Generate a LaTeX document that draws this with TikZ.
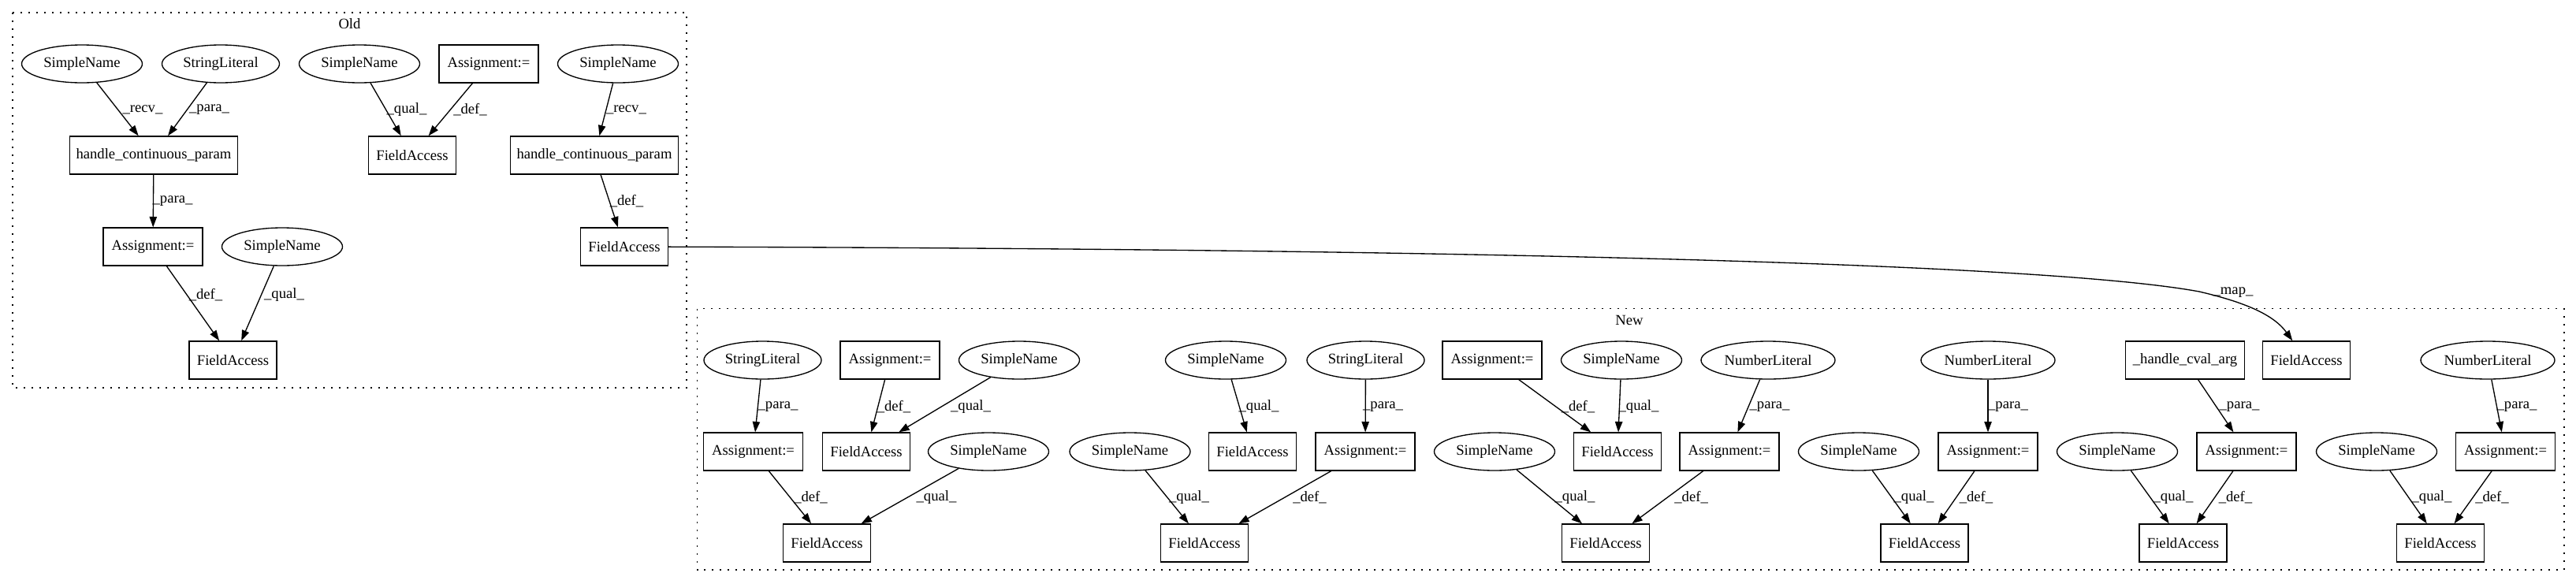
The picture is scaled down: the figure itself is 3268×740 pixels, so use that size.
\documentclass[tikz,border=0pt]{standalone}
\usepackage{fontspec}
\setmainfont{Liberation Serif}
\usetikzlibrary{shapes.geometric,arrows.meta}
\tikzset{
  ell/.style={draw, ellipse, line width=1pt, inner sep=0pt, minimum height=36pt, minimum width=#1},
  box/.style={draw, rectangle, line width=1pt, inner sep=0pt, minimum height=36pt, minimum width=#1},
  edge/.style={draw, line width=1pt, -{Triangle[length=10pt,width=7pt]}},
  lab/.style={inner sep=0pt},
  cluster/.style={line width=1pt, dash pattern=on 1.5pt off 6pt},
}
\begin{document}
\begin{tikzpicture}[x=0.75pt,y=-0.75pt,font=\fontsize{14pt}{16pt}\selectfont]
\useasboundingbox (0,0) rectangle (3268,740);
% clusters
\draw[cluster] (16,16) rectangle (871,492);
\node[lab] (oldlab) at (443.5,30.5) {Old};
\draw[cluster] (884.5,391.7) rectangle (3253,723);
\node[lab] (newlab) at (2067,406) {New};

% Old nodes
\node[ell=114.75pt] (o1) at (104,81) {SimpleName};
\node[ell=111.75pt] (o2) at (280,81) {StringLiteral};
\node[ell=114.75pt] (o3) at (456,81) {SimpleName};
\node[box=94.5pt] (o4) at (620,81) {Assignment:=};
\node[ell=114.75pt] (o5) at (784,81) {SimpleName};
\node[box=159.75pt] (o6) at (195,197) {handle\_continuous\_param};
\node[box=83.25pt] (o7) at (523,197) {FieldAccess};
\node[box=159.75pt] (o8) at (754,197) {handle\_continuous\_param};
\node[box=94.5pt] (o9) at (194,313) {Assignment:=};
\node[ell=114.75pt] (o10) at (358,313) {SimpleName};
\node[box=83.25pt] (o11) at (792,313) {FieldAccess};
\node[box=83.25pt] (o12) at (295.5,457) {FieldAccess};

% New nodes row A
\node[ell=111.75pt] (a1) at (967.5,457) {StringLiteral};
\node[box=94.5pt] (a2) at (1129,457) {Assignment:=};
\node[ell=114.75pt] (a3) at (1293,457) {SimpleName};
\node[ell=114.75pt] (a4) at (1555,457) {SimpleName};
\node[ell=111.75pt] (a5) at (1732.5,457) {StringLiteral};
\node[box=94.5pt] (a6) at (1893,457) {Assignment:=};
\node[ell=114.75pt] (a7) at (2057,457) {SimpleName};
\node[ell=127.5pt] (a8) at (2243,457) {NumberLiteral};
\node[ell=127.5pt] (a9) at (2522,457) {NumberLiteral};
\node[box=113.25pt] (a10) at (2772,457) {\_handle\_cval\_arg};
\node[box=83.25pt] (a11) at (2926,457) {FieldAccess};
\node[ell=127.5pt] (a12) at (3156,457) {NumberLiteral};
% row B
\node[box=94.5pt] (b1) at (955.5,573) {Assignment:=};
\node[box=83.25pt] (b2) at (1099,573) {FieldAccess};
\node[ell=114.75pt] (b3) at (1254,573) {SimpleName};
\node[ell=114.75pt] (b4) at (1433.5,573) {SimpleName};
\node[box=83.25pt] (b5) at (1589,573) {FieldAccess};
\node[box=94.5pt] (b6) at (1732,573) {Assignment:=};
\node[ell=114.75pt] (b7) at (1896,573) {SimpleName};
\node[box=83.25pt] (b8) at (2052,573) {FieldAccess};
\node[box=94.5pt] (b9) at (2194,573) {Assignment:=};
\node[ell=114.75pt] (b10) at (2358,573) {SimpleName};
\node[box=94.5pt] (b11) at (2522,573) {Assignment:=};
\node[ell=114.75pt] (b12) at (2686,573) {SimpleName};
\node[box=94.5pt] (b13) at (2850,573) {Assignment:=};
\node[ell=114.75pt] (b14) at (3015,573) {SimpleName};
\node[box=94.5pt] (b15) at (3178.6,573) {Assignment:=};
% row C
\node[box=83.25pt] (c1) at (1049,689) {FieldAccess};
\node[box=83.25pt] (c2) at (1528,689) {FieldAccess};
\node[box=83.25pt] (c3) at (2037,689) {FieldAccess};
\node[box=83.25pt] (c4) at (2441.5,689) {FieldAccess};
\node[box=83.25pt] (c5) at (2769.5,689) {FieldAccess};
\node[box=83.25pt] (c6) at (3096,689) {FieldAccess};

% Old edges
\draw[edge] (o1) -- (o6) node[lab] at (181,139) {\_recv\_};
\draw[edge] (o2) -- (o6) node[lab] at (265.5,139) {\_para\_};
\draw[edge] (o3) -- (o7) node[lab] at (516,139) {\_qual\_};
\draw[edge] (o4) -- (o7) node[lab] at (596.5,139) {\_def\_};
\draw[edge] (o5) -- (o8) node[lab] at (794.5,139) {\_recv\_};
\draw[edge] (o6) -- (o9) node[lab] at (219,255) {\_para\_};
\draw[edge] (o8) -- (o11) node[lab] at (795,255) {\_def\_};
\draw[edge] (o9) -- (o12) node[lab] at (261,374) {\_def\_};
\draw[edge] (o10) -- (o12) node[lab] at (360.5,374) {\_qual\_};

% map edge
\coordinate (mapmid) at (2790,370);
\draw[edge] (o11) .. controls (1900,316) and (2600,335) .. (mapmid)
  .. controls (2850,384) and (2885,400) .. (a11)
  node[lab] at (2833,371) {\_map\_};

% New edges A->B
\draw[edge] (a1) -- (b1) node[lab] at (987,516) {\_para\_};
\draw[edge] (a2) -- (b2) node[lab] at (1134,516) {\_def\_};
\draw[edge] (a3) -- (b2) node[lab] at (1231.5,516) {\_qual\_};
\draw[edge] (a4) -- (b5) node[lab] at (1597,516) {\_qual\_};
\draw[edge] (a5) -- (b6) node[lab] at (1754.5,516) {\_para\_};
\draw[edge] (a6) -- (b8) node[lab] at (2002,516) {\_def\_};
\draw[edge] (a7) -- (b8) node[lab] at (2079,516) {\_qual\_};
\draw[edge] (a8) -- (b9) node[lab] at (2245,516) {\_para\_};
\draw[edge] (a9) -- (b11) node[lab] at (2547.5,516) {\_para\_};
\draw[edge] (a10) -- (b13) node[lab] at (2841,516) {\_para\_};
\draw[edge] (a12) -- (b15) node[lab] at (3193,516) {\_para\_};
% B->C
\draw[edge] (b1) -- (c1) node[lab] at (1028.5,631) {\_def\_};
\draw[edge] (b3) -- (c1) node[lab] at (1188,631) {\_qual\_};
\draw[edge] (b4) -- (c2) node[lab] at (1508.5,631) {\_qual\_};
\draw[edge] (b6) -- (c2) node[lab] at (1661.5,631) {\_def\_};
\draw[edge] (b7) -- (c3) node[lab] at (1998,631) {\_qual\_};
\draw[edge] (b9) -- (c3) node[lab] at (2145.6,631) {\_def\_};
\draw[edge] (b10) -- (c4) node[lab] at (2428,631) {\_qual\_};
\draw[edge] (b11) -- (c4) node[lab] at (2507,631) {\_def\_};
\draw[edge] (b12) -- (c5) node[lab] at (2757,631) {\_qual\_};
\draw[edge] (b13) -- (c5) node[lab] at (2836,631) {\_def\_};
\draw[edge] (b14) -- (c6) node[lab] at (3085,631) {\_qual\_};
\draw[edge] (b15) -- (c6) node[lab] at (3161.5,631) {\_def\_};
\end{tikzpicture}
\end{document}
